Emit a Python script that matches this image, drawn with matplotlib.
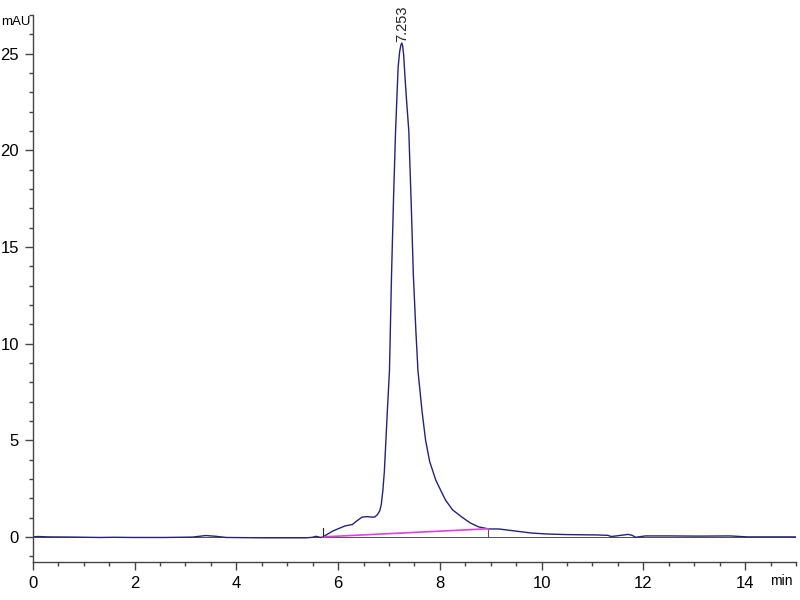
import numpy as np
import matplotlib
matplotlib.use('Agg')
import matplotlib.pyplot as plt
from matplotlib.ticker import MultipleLocator

plt.rcParams['font.family'] = ['Liberation Sans Narrow', 'Liberation Sans', 'DejaVu Sans']

# chromatogram trace (min, mAU)
time = [0.0, 0.1, 0.3, 0.8, 1.31, 1.6, 1.96, 2.6, 3.14, 3.4, 3.6, 3.8, 4.2, 4.58, 5.0,
        5.37, 5.5, 5.56, 5.66, 5.7, 5.78, 5.88, 6.0, 6.14, 6.28, 6.38, 6.47, 6.58, 6.67,
        6.72, 6.77, 6.82, 6.85, 6.88, 6.91, 6.94, 6.97, 7.01, 7.05, 7.09, 7.13, 7.18, 7.21,
        7.235, 7.253, 7.27, 7.29, 7.31, 7.34, 7.39, 7.44, 7.48, 7.53, 7.57, 7.65, 7.72, 7.8,
        7.92, 8.0, 8.11, 8.25, 8.43, 8.6, 8.76, 8.96, 9.16, 9.4, 9.8, 10.1, 10.47, 11.1,
        11.3, 11.37, 11.5, 11.7, 11.78, 11.85, 12.04, 12.5, 13.08, 13.7, 14.05, 14.5, 15.0]
signal = [0.0, 0.02, 0.0, -0.01, -0.03, -0.02, -0.03, -0.03, -0.01, 0.07, 0.03, -0.03, -0.04,
          -0.05, -0.05, -0.05, -0.02, 0.03, -0.03, 0.0, 0.12, 0.28, 0.42, 0.57, 0.64, 0.85,
          1.02, 1.05, 1.02, 1.03, 1.14, 1.35, 1.7, 2.4, 3.4, 5.0, 6.6, 8.6, 13.5, 17.5, 21.0,
          24.3, 25.1, 25.45, 25.55, 25.4, 24.9, 24.0, 22.8, 21.0, 17.0, 13.5, 10.6, 8.6, 6.5,
          5.0, 3.9, 2.94, 2.5, 1.91, 1.4, 1.03, 0.72, 0.52, 0.41, 0.41, 0.33, 0.2, 0.15, 0.12,
          0.1, 0.08, 0.02, 0.06, 0.13, 0.08, -0.02, 0.05, 0.05, 0.04, 0.05, 0.0, 0.0, 0.0]

# integration baseline
base_t = [5.7, 8.95]
base_y = [0.0, 0.42]

peak_t = 7.253
peak_h = 25.55

fig = plt.figure(figsize=(8, 6), dpi=100)
ax = fig.add_axes([0.041, 0.0633, 0.954, 0.9117])

ax.plot(time, signal, color='#23237a', lw=1.0)
ax.plot(base_t, base_y, color='#e040e0', lw=1.2)
ax.axhline(0, color='#333333', lw=0.6, zorder=0)

# start / end markers of the integrated peak
ax.plot([base_t[0], base_t[0]], [0.05, 0.45], color='#222222', lw=0.8)
ax.plot([base_t[1], base_t[1]], [base_y[1] - 0.05, base_y[1] - 0.45], color='#555555', lw=0.8)

ax.text(peak_t, peak_h + 0.05, '7.253', rotation=90, ha='center', va='bottom',
        fontsize=10.5, color='#222222', clip_on=False)

ax.set_xlim(0, 15)
ax.set_ylim(-1.3, 27)
ax.xaxis.set_major_locator(MultipleLocator(2))
ax.xaxis.set_minor_locator(MultipleLocator(0.5))
ax.yaxis.set_major_locator(MultipleLocator(5))
ax.yaxis.set_minor_locator(MultipleLocator(1))

for s in ['top', 'right']:
    ax.spines[s].set_visible(False)
for s in ['left', 'bottom']:
    ax.spines[s].set_color('#444444')
    ax.spines[s].set_linewidth(1.0)

ax.tick_params(which='major', length=6, width=1, color='#444444', labelsize=12, pad=4)
ax.tick_params(which='minor', length=3, width=1, color='#444444')

fig.text(0.002, 0.963, 'mAU', fontsize=9.5, ha='left', va='center')
fig.text(0.976, 0.032, 'min', fontsize=10, ha='center', va='center')

plt.savefig('out.png', dpi=100)
